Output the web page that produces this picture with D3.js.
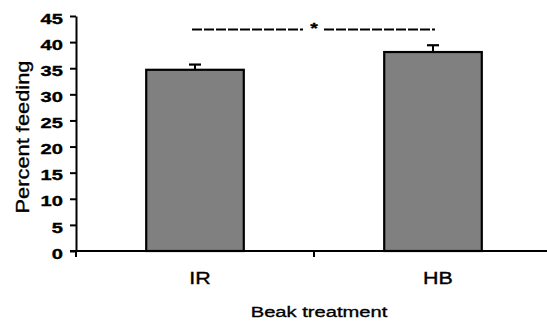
<!DOCTYPE html>
<html>
<head>
<meta charset="utf-8">
<script src="https://cdn.jsdelivr.net/npm/d3@7"></script>
<style>
  body { margin: 0; background: #fff; }
  svg text { font-family: "Liberation Sans", Arial, sans-serif; fill: #000; stroke: #000; stroke-width: 0.35px; }
</style>
</head>
<body>
<div id="chart"></div>
<script>
// data
const categories = ['IR', 'HB'];
const means = [34.7, 38.1];
const sems = [1.0, 1.3];
const yTicks = [0, 5, 10, 15, 20, 25, 30, 35, 40, 45];
const sigLabel = '*';

const width = 547, height = 327;
const xs = 1.3; // text in the figure is drawn wide

const svg = d3.select('#chart').append('svg')
  .attr('width', width).attr('height', height);

const y = d3.scaleLinear().domain([0, 45]).range([251, 16]);
const x = d3.scaleBand().domain(categories).range([76, 552]);
const barW = x.bandwidth() * 0.41;

// bars
const bars = svg.append('g').attr('class', 'bars')
  .selectAll('g').data(categories).join('g');

bars.append('rect')
  .attr('x', d => x(d) + x.bandwidth() / 2 - barW / 2)
  .attr('y', (d, i) => y(means[i]))
  .attr('width', barW)
  .attr('height', (d, i) => y(0) - y(means[i]))
  .attr('fill', '#808080').attr('stroke', '#000').attr('stroke-width', 2.2);

// error bars (upper only)
bars.append('line')
  .attr('x1', d => x(d) + x.bandwidth() / 2).attr('x2', d => x(d) + x.bandwidth() / 2)
  .attr('y1', (d, i) => y(means[i])).attr('y2', (d, i) => y(means[i] + sems[i]))
  .attr('stroke', '#000').attr('stroke-width', 2);
bars.append('line')
  .attr('x1', d => x(d) + x.bandwidth() / 2 - 6).attr('x2', d => x(d) + x.bandwidth() / 2 + 6)
  .attr('y1', (d, i) => y(means[i] + sems[i])).attr('y2', (d, i) => y(means[i] + sems[i]))
  .attr('stroke', '#000').attr('stroke-width', 2.2);

// y axis
const ya = svg.append('g').attr('transform', 'translate(76,0)')
  .call(d3.axisLeft(y).tickValues(yTicks).tickSize(6).tickPadding(7).tickSizeOuter(0));
ya.select('.domain').attr('stroke-width', 2);
ya.selectAll('.tick line').attr('stroke-width', 2);
ya.selectAll('.tick text')
  .attr('font-size', 15.5).attr('font-weight', 'bold').attr('font-family', null)
  .attr('dy', '0.46em')
  .attr('transform', function() { const tx = +d3.select(this).attr('x'); return `translate(${tx * (1 - xs)},0) scale(${xs},1)`; });

// x axis: line with boundary ticks
const xa = svg.append('g').attr('transform', `translate(0,${y(0)})`);
xa.append('line').attr('x1', 70).attr('x2', width).attr('stroke', '#000').attr('stroke-width', 2);
xa.selectAll('line.tk').data(categories.map(d => x(d)).concat([x.range()[1]]))
  .join('line').attr('class', 'tk')
  .attr('x1', d => d).attr('x2', d => d).attr('y1', 0).attr('y2', 6)
  .attr('stroke', '#000').attr('stroke-width', 2);

xa.selectAll('text').data(categories).join('text')
  .attr('transform', d => `translate(${x(d) + x.bandwidth() / 2 + 5},33) scale(${xs},1)`)
  .attr('text-anchor', 'middle').attr('font-size', 16.5)
  .text(d => d);

// axis titles
svg.append('text')
  .attr('transform', `translate(319,317) scale(${xs},1)`)
  .attr('text-anchor', 'middle').attr('font-size', 15.5)
  .text('Beak treatment');

svg.append('text')
  .attr('transform', 'translate(29,137) rotate(-90)')
  .attr('text-anchor', 'middle').attr('font-size', 19)
  .attr('textLength', 153).attr('lengthAdjust', 'spacingAndGlyphs')
  .text('Percent feeding');

// significance marker
const sigY = 29.5, mid = x.range()[0] + x.bandwidth();
const sig = svg.append('g');
sig.append('line').attr('x1', 192).attr('x2', mid - 11).attr('y1', sigY).attr('y2', sigY)
  .attr('stroke', '#000').attr('stroke-width', 2.2).attr('stroke-dasharray', '10,2');
sig.append('line').attr('x1', mid + 10).attr('x2', 435).attr('y1', sigY).attr('y2', sigY)
  .attr('stroke', '#000').attr('stroke-width', 2.2).attr('stroke-dasharray', '10,2');
sig.append('text')
  .attr('transform', `translate(${mid},33) scale(${xs},1)`)
  .attr('text-anchor', 'middle').attr('font-size', 15).attr('font-weight', 'bold')
  .text(sigLabel);
</script>
</body>
</html>
